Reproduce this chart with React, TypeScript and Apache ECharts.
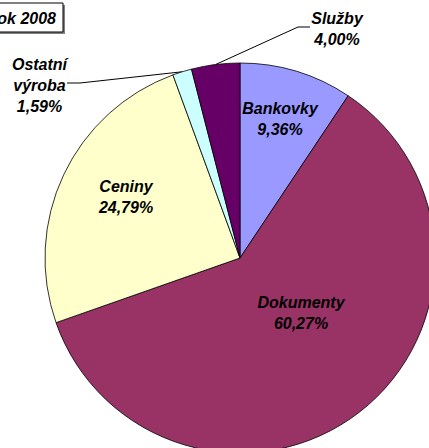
import React, { useEffect, useRef } from "react";
import * as echarts from "echarts";

const title = "Rok 2008";
const categories = ["Bankovky", "Dokumenty", "Ceniny", "Ostatní výroba", "Služby"];
const labelNames = ["Bankovky", "Dokumenty", "Ceniny", "Ostatní\nvýroba", "Služby"];
const shares = [9.36, 60.27, 24.79, 1.59, 4.0];
const colors = ["#9999FF", "#993366", "#FFFFCC", "#CCFFFF", "#660066"];
const insideLabel = [true, true, true, false, false];

// layout (not data)
const CX = 240;
const CY = 258;
const R = 195;
const labelSpots: { x: number; y: number; elbow?: number[]; end?: number[] }[] = [
  { x: 280, y: 119 },
  { x: 301, y: 313 },
  { x: 126, y: 197 },
  { x: 39.5, y: 85, elbow: [80, 83], end: [67, 83] },
  { x: 337, y: 28.5, elbow: [298, 27], end: [310, 27] },
];

const FONT = "'Liberation Sans', Arial, sans-serif";

export default function App() {
  const ref = useRef<HTMLDivElement>(null);
  useEffect(() => {
    if (!ref.current) return;
    const chart = echarts.init(ref.current, undefined, { renderer: "svg" });
    const total = shares.reduce((a, b) => a + b, 0);
    const edgePoint = (i: number) => {
      let before = 0;
      for (let k = 0; k < i; k++) before += shares[k];
      const mid = ((before + shares[i] / 2) / total) * Math.PI * 2;
      return [CX + R * Math.sin(mid), CY - R * Math.cos(mid)];
    };
    chart.setOption({
      animation: false,
      backgroundColor: "#ffffff",
      graphic: [
        {
          type: "group",
          children: [
            { type: "rect", shape: { x: -18, y: 5, width: 83, height: 29 }, style: { fill: "#808080" } },
            { type: "rect", shape: { x: -20, y: 3, width: 83, height: 29 }, style: { fill: "#ffffff", stroke: "#000", lineWidth: 1 } },
            {
              type: "text",
              x: 56,
              y: 18,
              style: {
                text: title,
                align: "right",
                verticalAlign: "middle",
                font: `italic bold 16px ${FONT}`,
                fill: "#000",
              },
            },
          ],
        },
      ],
      series: [
        {
          type: "pie",
          center: [CX, CY],
          radius: R,
          startAngle: 90,
          clockwise: true,
          avoidLabelOverlap: false,
          itemStyle: { borderColor: "#000", borderWidth: 0.8 },
          label: {
            show: true,
            position: "outside",
            formatter: (p: any) =>
              `${labelNames[p.dataIndex]}\n${shares[p.dataIndex].toFixed(2).replace(".", ",")}%`,
            fontFamily: FONT,
            fontWeight: "bold",
            fontStyle: "italic",
            fontSize: 16,
            lineHeight: 21,
            color: "#000",
            align: "center",
          },
          labelLine: { show: true, lineStyle: { color: "#000", width: 1 } },
          labelLayout: (params: any) => {
            const i = params.dataIndex;
            const s = labelSpots[i];
            const out: any = { x: s.x, y: s.y, align: "center", verticalAlign: "middle" };
            if (s.elbow && s.end) {
              out.labelLinePoints = [edgePoint(i), s.elbow, s.end];
            }
            return out;
          },
          data: categories.map((name, i) => ({
            name,
            value: shares[i],
            itemStyle: { color: colors[i] },
            label: insideLabel[i] ? { position: "inside" } : undefined,
            labelLine: insideLabel[i] ? { show: false } : undefined,
          })),
        },
      ],
    });
    return () => chart.dispose();
  }, []);
  return <div ref={ref} style={{ position: "fixed", left: 0, top: 0, width: 429, height: 448 }} />;
}
